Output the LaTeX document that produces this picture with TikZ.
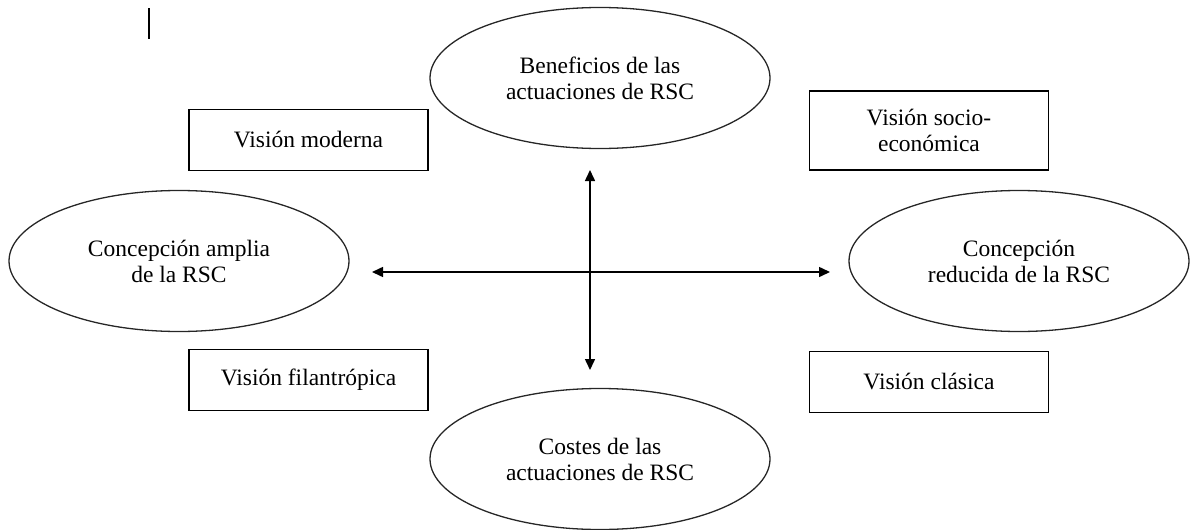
\documentclass[tikz,border=0pt]{standalone}
\usepackage{fontspec}
\setmainfont{Liberation Serif}
\usetikzlibrary{shapes.geometric,arrows.meta}
\begin{document}
\begin{tikzpicture}[x=1pt,y=-1pt,
  ell/.style={draw=black!85,line width=1.3pt,ellipse,inner sep=0pt,minimum width=340pt,minimum height=141pt,align=center,font=\fontsize{23.5}{26}\selectfont},
  box/.style={draw=black,line width=1.6pt,rectangle,inner sep=0pt,minimum width=239pt,minimum height=61pt,align=center,font=\fontsize{23.5}{26}\selectfont},
  arr/.style={line width=1.5pt,{Triangle[length=11pt,width=10pt]}-{Triangle[length=11pt,width=10pt]}}]
\useasboundingbox (0,0) rectangle (1194,530);
% cursor mark
\coordinate (c1) at (149,8);
\coordinate (c2) at (149,39);
\draw[line width=1.6pt] (c1) -- (c2);
% ellipses
\node[ell] (top) at (600,78) {Beneficios de las\\actuaciones de RSC};
\node[ell] (bot) at (600,459) {Costes de las\\actuaciones de RSC};
\node[ell] (lft) at (179,261) {Concepción amplia\\de la RSC};
\node[ell] (rgt) at (1019,261) {Concepción\\reducida de la RSC};
% boxes
\node[box] (mod) at (308.5,140) {Visión moderna};
\node[box,minimum height=79pt] (soc) at (929,130.5) {Visión socio-\\económica};
\node[box] (fil) at (308.5,380) {Visión filantrópica};
\node[box] (cla) at (929,382) {Visión clásica};
% arrows
\coordinate (vt) at (590,170);
\coordinate (vb) at (590,370);
\coordinate (hl) at (372,272);
\coordinate (hr) at (830,272);
\draw[arr] (vt) -- (vb);
\draw[arr] (hl) -- (hr);
\end{tikzpicture}
\end{document}
